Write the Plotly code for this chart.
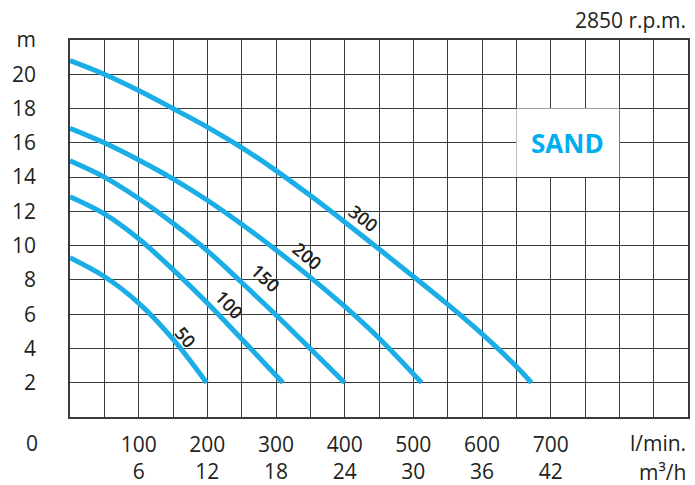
import plotly.graph_objects as go

# ---- data ----
flow_lpm_ticks = [100, 200, 300, 400, 500, 600, 700]
flow_m3h_ticks = [6, 12, 18, 24, 30, 36, 42]
head_ticks = [2, 4, 6, 8, 10, 12, 14, 16, 18, 20]

curve_names = ["300", "200", "150", "100", "50"]

q_300 = [0, 50, 100, 150, 200, 250, 300, 350, 400, 450, 500, 550, 600, 650, 672]
h_300 = [20.8, 20.0, 19.05, 18.0, 16.92, 15.72, 14.38, 12.92, 11.38, 9.8, 8.2, 6.57, 4.85, 2.95, 2.0]

q_200 = [0, 50, 100, 150, 200, 250, 300, 350, 400, 450, 512]
h_200 = [16.85, 16.0, 15.0, 13.9, 12.65, 11.25, 9.75, 8.15, 6.45, 4.6, 2.0]

q_150 = [0, 50, 100, 150, 200, 250, 300, 350, 400]
h_150 = [14.95, 14.0, 12.75, 11.3, 9.7, 7.85, 5.95, 3.98, 2.0]

q_100 = [0, 50, 100, 150, 200, 250, 310]
h_100 = [12.85, 11.85, 10.4, 8.6, 6.65, 4.55, 2.0]

q_50 = [0, 50, 100, 150, 199]
h_50 = [9.3, 8.2, 6.65, 4.55, 2.0]

label_q = [427, 346, 285, 233, 168]
label_h = [11.6, 9.4, 8.1, 6.55, 4.65]
label_angle = [38, 40, 43, 47, 50]

curves_q = [q_300, q_200, q_150, q_100, q_50]
curves_h = [h_300, h_200, h_150, h_100, h_50]

# ---- styles ----
BLUE = "#1AADE6"
INK = "#231F20"
GRID = "#3a3a3a"
FONT = "Open Sans"

fig = go.Figure()
for name, q, h in zip(curve_names, curves_q, curves_h):
    fig.add_trace(go.Scatter(x=q, y=h, mode="lines", name=name,
                             line=dict(color=BLUE, width=5, shape="spline", smoothing=1.0),
                             showlegend=False, hoverinfo="skip"))

for name, lq, lh, ang in zip(curve_names, label_q, label_h, label_angle):
    fig.add_annotation(x=lq, y=lh, text=name, showarrow=False, textangle=ang,
                       font=dict(family=FONT, size=18, color=INK, weight=600))

# SAND box
fig.add_shape(type="rect", x0=650, x1=800, y0=14, y1=18, fillcolor="white",
              line=dict(width=0), layer="above")
fig.add_annotation(x=725, y=16, text="<b>SAND</b>", showarrow=False,
                   font=dict(family=FONT, size=26, color="#00AEEF"))

# axis texts
fig.add_annotation(xref="paper", yref="paper", x=1.0, y=1.0, yshift=20, xanchor="right",
                   yanchor="middle", text="2850 r.p.m.", showarrow=False,
                   font=dict(family=FONT, size=21, color=INK))
fig.add_annotation(xref="paper", yref="paper", x=1.0, y=0, yshift=-26, xanchor="right",
                   yanchor="middle", text="l/min.", showarrow=False,
                   font=dict(family=FONT, size=21, color=INK))
fig.add_annotation(xref="paper", yref="paper", x=1.0, y=0, yshift=-55, xanchor="right",
                   yanchor="middle", text="m\u00b3/h", showarrow=False,
                   font=dict(family=FONT, size=21, color=INK))
fig.add_annotation(xref="paper", yref="paper", x=0, xshift=-30, y=0, yshift=-26,
                   xanchor="right", yanchor="middle", text="0", showarrow=False,
                   font=dict(family=FONT, size=21, color=INK))

fig.update_layout(
    width=695, height=485,
    margin=dict(l=70, r=7, t=40, b=68, autoexpand=False),
    paper_bgcolor="white", plot_bgcolor="white",
    font=dict(family=FONT, size=21, color=INK),
    xaxis=dict(range=[0, 900], tickvals=flow_lpm_ticks,
               ticktext=[f"{a}<br>{b}" for a, b in zip(flow_lpm_ticks, flow_m3h_ticks)],
               showgrid=True, gridcolor=GRID, gridwidth=1,
               minor=dict(dtick=50, tick0=0, showgrid=True, gridcolor=GRID, gridwidth=1),
               showline=True, mirror=True, linecolor=GRID, linewidth=1.5,
               ticks="outside", ticklen=8, tickcolor="rgba(0,0,0,0)",
               zeroline=False, fixedrange=True, automargin=False),
    yaxis=dict(range=[0, 22], tickvals=head_ticks + [22],
               ticktext=[str(v) for v in head_ticks] + ["m"],
               showgrid=True, gridcolor=GRID, gridwidth=1,
               showline=True, mirror=True, linecolor=GRID, linewidth=1.5,
               ticks="outside", ticklen=28, tickcolor="rgba(0,0,0,0)",
               zeroline=False, fixedrange=True, automargin=False),
)

fig.write_html("out.html", config={"displayModeBar": False},
               post_script="document.body.style.margin='0';")
